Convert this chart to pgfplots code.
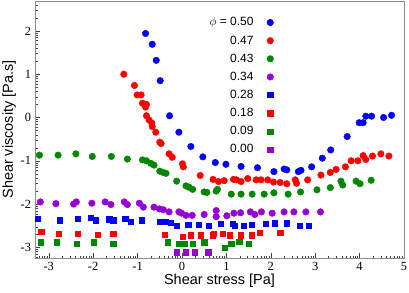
\documentclass[border=0pt]{standalone}
\usepackage{pgfplots}
\pgfplotsset{compat=1.18}
\usepackage{fontspec}
\setmainfont{Liberation Serif}
\setsansfont{Liberation Sans}
\definecolor{cblue}{RGB}{0,0,255}
\definecolor{cred}{RGB}{255,0,0}
\definecolor{cgreen}{RGB}{0,135,0}
\definecolor{cpurple}{RGB}{150,0,210}
\begin{document}
\begin{tikzpicture}
\begin{axis}[
  scale only axis,
  width=369bp, height=257bp,
  xmin=-3.31, xmax=5.0,
  ymin=-3.245, ymax=2.69,
  xtick={-3,-2,-1,0,1,2,3,4,5},
  ytick={-3,-2,-1,0,1,2},
  minor xtick={-3.699,-3.523,-3.398,-3.301,-3.222,-3.155,-3.097,-3.046,
    -2.699,-2.523,-2.398,-2.301,-2.222,-2.155,-2.097,-2.046,
    -1.699,-1.523,-1.398,-1.301,-1.222,-1.155,-1.097,-1.046,
    -0.699,-0.523,-0.398,-0.301,-0.222,-0.155,-0.097,-0.046,
    0.301,0.477,0.602,0.699,0.778,0.845,0.903,0.954,
    1.301,1.477,1.602,1.699,1.778,1.845,1.903,1.954,
    2.301,2.477,2.602,2.699,2.778,2.845,2.903,2.954,
    3.301,3.477,3.602,3.699,3.778,3.845,3.903,3.954,
    4.301,4.477,4.602,4.699,4.778,4.845,4.903,4.954},
  minor ytick={-3.699,-3.523,-3.398,-3.301,-3.222,-3.155,-3.097,-3.046,
    -2.699,-2.523,-2.398,-2.301,-2.222,-2.155,-2.097,-2.046,
    -1.699,-1.523,-1.398,-1.301,-1.222,-1.155,-1.097,-1.046,
    -0.699,-0.523,-0.398,-0.301,-0.222,-0.155,-0.097,-0.046,
    0.301,0.477,0.602,0.699,0.778,0.845,0.903,0.954,
    1.301,1.477,1.602,1.699,1.778,1.845,1.903,1.954,
    2.301,2.477,2.602,2.699,2.778,2.845,2.903,2.954},
  xtick pos=bottom, ytick pos=left,
  tick align=inside,
  major tick length=5bp, minor tick length=2.5bp,
  axis line style={black!45},
  every tick/.style={black!75, line width=0.5pt},
  every minor tick/.style={black!75, line width=0.4pt},
  tick label style={font=\fontsize{12.5}{14}\selectfont},
  /pgf/number format/assume math mode=true,
  xticklabel style={yshift=-1bp},
  yticklabel style={xshift=-0.5bp},
  xlabel={Shear stress [Pa]},
  ylabel={Shear viscosity [Pa.s]},
  label style={font=\sffamily\fontsize{14.5}{16}\selectfont},
  xlabel style={yshift=4bp},
  ylabel style={yshift=-2bp},
  legend plot pos=right,
  legend cell align=right,
  legend style={draw=none, fill=none, at={(axis description cs:0.647,0.942)}, anchor=north east,
    font=\sffamily\fontsize{12}{14}\selectfont, row sep=5.3bp, column sep=12bp, inner sep=0pt,
    nodes={inner sep=1.5bp}},
  every axis plot/.append style={only marks},
]
% phi = 0.50 blue circles
\addplot[mark=*, mark size=3.3pt, color=cblue] coordinates {
(-0.82,1.94)(-0.67,1.69)(-0.58,1.32)(-0.49,0.85)(-0.28,0.04)(-0.07,-0.34)(0.20,-0.67)
(0.47,-0.91)(0.75,-1.04)(0.99,-1.08)(1.33,-1.13)(1.70,-1.16)(2.07,-1.25)(2.30,-1.19)
(2.36,-1.21)(2.62,-1.25)(2.68,-1.22)(2.92,-1.14)(3.16,-0.94)(3.35,-0.75)(3.72,-0.44)
(3.99,-0.12)(4.08,-0.12)(4.14,0.03)(4.27,0.03)(4.54,0.00)(4.72,0.05)};
\addlegendentry{$\phi$ = 0.50}
% 0.47 red circles
\addplot[mark=*, mark size=3.3pt, color=cred] coordinates {
(-1.31,1.00)(-1.07,0.74)(-1.01,0.52)(-0.92,0.52)(-0.89,0.33)(-0.82,0.29)(-0.80,0.30)
(-0.82,0.24)(-0.80,0.04)(-0.74,-0.06)(-0.68,-0.13)(-0.67,-0.21)(-0.59,-0.34)(-0.50,-0.57)
(-0.47,-0.60)(-0.29,-0.84)(-0.22,-0.92)(0.01,-1.07)(0.03,-1.14)(0.41,-1.34)(0.70,-1.43)
(0.82,-1.48)(0.95,-1.46)(1.16,-1.43)(1.23,-1.44)(1.33,-1.48)(1.48,-1.41)(1.67,-1.44)
(1.78,-1.44)(1.93,-1.44)(2.06,-1.49)(2.21,-1.50)(2.36,-1.53)(2.55,-1.44)(2.58,-1.52)
(2.83,-1.44)(3.13,-1.33)(3.34,-1.27)(3.47,-1.20)(3.68,-1.14)(3.81,-1.00)(3.96,-1.00)
(4.08,-0.88)(4.14,-0.97)(4.29,-0.89)(4.48,-0.84)(4.66,-0.89)};
\addlegendentry{0.47}
% 0.43 green circles
\addplot[mark=*, mark size=3.3pt, color=cgreen] coordinates {
(-3.21,-0.87)(-2.79,-0.87)(-2.39,-0.84)(-2.02,-0.90)(-1.59,-0.90)(-1.23,-0.96)(-0.89,-0.98)
(-0.80,-1.00)(-0.70,-1.06)(-0.63,-1.10)(-0.50,-1.24)(-0.42,-1.27)(-0.36,-1.29)(-0.12,-1.47)
(0.09,-1.58)(0.16,-1.61)(0.24,-1.66)(0.50,-1.72)(0.56,-1.73)(0.77,-1.70)(0.80,-1.66)
(1.11,-1.77)(1.33,-1.77)(1.58,-1.77)(1.85,-1.77)(2.07,-1.74)(2.39,-1.77)(2.67,-1.72)
(3.04,-1.67)(3.34,-1.62)(3.58,-1.47)(3.62,-1.56)(3.92,-1.47)(4.01,-1.53)(4.26,-1.45)};
\addlegendentry{0.43}
% 0.34 purple circles
\addplot[mark=*, mark size=3.3pt, color=cpurple] coordinates {
(-3.19,-1.95)(-2.84,-1.99)(-2.44,-2.00)(-2.38,-1.95)(-2.03,-1.98)(-1.73,-1.95)(-1.60,-2.01)
(-1.30,-1.95)(-1.23,-2.01)(-0.96,-1.98)(-0.87,-2.07)(-0.63,-2.07)(-0.51,-2.11)(-0.42,-2.13)
(-0.29,-2.18)(-0.07,-2.18)(-0.01,-2.21)(0.09,-2.26)(0.23,-2.26)(0.50,-2.24)(0.77,-2.15)
(0.77,-2.29)(1.01,-2.27)(1.17,-2.21)(1.32,-2.20)(1.54,-2.18)(1.64,-2.24)(1.79,-2.18)
(2.03,-2.21)(2.30,-2.18)(2.52,-2.18)(2.79,-2.18)(3.12,-2.18)};
\addlegendentry{0.34}
% 0.28 blue squares
\addplot[mark=square*, mark size=2.6pt, color=cblue] coordinates {
(-3.25,-2.34)(-2.76,-2.37)(-2.34,-2.34)(-2.06,-2.32)(-1.94,-2.37)(-1.64,-2.35)(-1.55,-2.37)
(-1.28,-2.34)(-1.16,-2.40)(-0.90,-2.37)(-0.51,-2.40)(-0.36,-2.40)(-0.25,-2.43)(-0.11,-2.49)
(0.14,-2.47)(0.37,-2.47)(0.60,-2.49)(0.87,-2.46)(1.14,-2.46)(1.18,-2.49)(1.39,-2.49)
(1.57,-2.47)(1.88,-2.46)(2.09,-2.44)(2.36,-2.44)(2.65,-2.50)(2.85,-2.50)};
\addlegendentry{0.28}
% 0.18 red squares
\addplot[mark=square*, mark size=2.6pt, color=cred] coordinates {
(-3.17,-2.64)(-2.77,-2.68)(-2.34,-2.68)(-1.89,-2.71)(-1.55,-2.68)(-0.39,-2.71)(0.01,-2.75)
(0.19,-2.72)(0.43,-2.72)(0.69,-2.72)(0.72,-2.69)(0.92,-2.69)(1.08,-2.72)(1.32,-2.72)
(1.57,-2.72)(1.75,-2.67)(2.21,-2.67)};
\addlegendentry{0.18}
% 0.09 green squares
\addplot[mark=square*, mark size=2.6pt, color=cgreen] coordinates {
(-3.19,-2.88)(-2.83,-2.88)(-2.37,-2.91)(-1.98,-2.88)(-1.55,-2.91)(-0.33,-2.88)(-0.08,-2.91)
(0.07,-2.91)(0.25,-2.91)(0.50,-2.88)(0.96,-3.00)(1.11,-2.92)(1.29,-2.86)(1.51,-2.92)};
\addlegendentry{0.09}
% 0.00 purple squares
\addplot[mark=square*, mark size=2.6pt, color=cpurple] coordinates {
(-0.12,-3.11)(0.09,-3.11)(0.28,-3.11)(0.59,-3.11)};
\addlegendentry{0.00}
\end{axis}
\pgfresetboundingbox
\path (current axis.south west) ++(-35bp,-35bp) coordinate (bbA);
\path (current axis.north east) ++(5bp,1bp) coordinate (bbB);
\useasboundingbox (bbA) rectangle (bbB);
\end{tikzpicture}
\end{document}
